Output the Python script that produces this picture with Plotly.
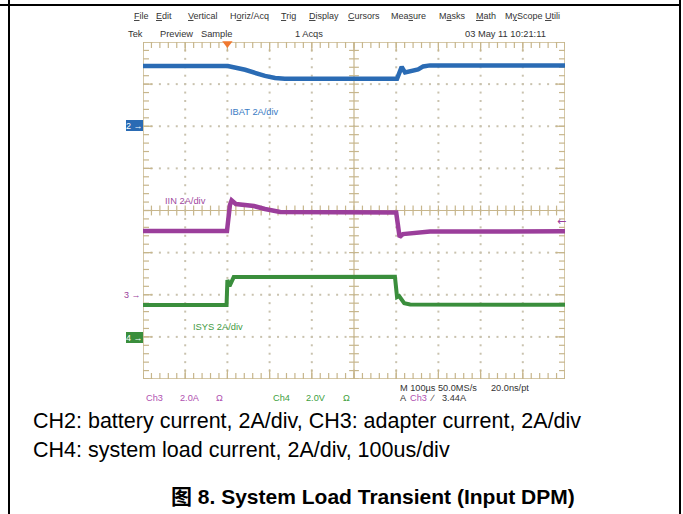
import numpy as np
import plotly.graph_objects as go

W, H = 683, 514

# ---- waveform samples: time in microseconds, current in amps ----
ibat_t = [0, 201, 242, 265, 289, 313, 336, 602, 613, 621, 633, 652, 664, 680, 1000]
ibat_a = [2.86, 2.86, 2.68, 2.53, 2.39, 2.29, 2.25, 2.25, 2.82, 2.55, 2.63, 2.70, 2.84, 2.89, 2.88]

iin_t = [0, 199, 206, 210, 220, 263, 289, 325, 600, 604, 608, 616, 645, 680, 1000]
iin_a = [3.03, 3.03, 4.26, 4.48, 4.31, 4.21, 4.07, 3.93, 3.90, 3.07, 2.74, 2.88, 2.93, 3.00, 3.01]

isys_t = [0, 198, 200, 205, 215, 597, 602, 607, 619, 633, 1000]
isys_a = [1.51, 1.51, 2.70, 2.41, 2.84, 2.86, 1.89, 1.94, 1.60, 1.54, 1.52]

# channel ground positions (divisions from screen centre) and vertical scale
CH2_GND, CH3_GND, CH4_GND = 2, -2, -3
A_PER_DIV = 2.0
TRIG_T = 200        # trigger position, us
TRIG_LEVEL = 3.44   # trigger level on Ch3, A

BLUE = "#2a6bb4"
PURPLE = "#9b3e9b"
GREEN = "#3a8e3c"
GRAT = "#c7b68c"
DOT = "#c9c2ae"
ORANGE = "#f0782e"

# graticule box in pixels
GX0, GX1, GY0, GY1 = 143, 565, 42, 379
PX_PER_US = (GX1 - GX0) / 1000.0
PX_PER_DIV = (GY1 - GY0) / 8.0


def px(x):
    return x / W


def py(y):
    return 1 - y / H


def to_div(amps, gnd):
    return [gnd + a / A_PER_DIV for a in amps]


fig = go.Figure()

# dotted graticule lines at every major division (dots every 0.2 div)
dot_x, dot_y = [], []
for xm in range(100, 1000, 100):
    if xm == 500:
        continue
    for yv in np.arange(-4, 4.001, 0.2):
        dot_x.append(xm)
        dot_y.append(yv)
for ym in range(-3, 4):
    if ym == 0:
        continue
    for xv in np.arange(0, 1000.1, 20):
        dot_x.append(xv)
        dot_y.append(ym)
fig.add_trace(go.Scatter(x=dot_x, y=dot_y, mode="markers",
                         marker=dict(symbol="square", size=2, color=DOT),
                         hoverinfo="skip", showlegend=False))


def tick_trace(xs, ys, symbol, size):
    fig.add_trace(go.Scatter(
        x=xs, y=ys, mode="markers", hoverinfo="skip", showlegend=False,
        marker=dict(symbol=symbol, size=size, color=GRAT,
                    line=dict(color=GRAT, width=1.2))))


xt = list(np.arange(0, 1000.1, 20))
yt = list(np.arange(-4, 4.001, 0.2))
# centre cross ticks
tick_trace(xt, [0] * len(xt), "line-ns", 7)
tick_trace([500] * len(yt), yt, "line-ew", 7)
# border ticks pointing inward
dy = 2.5 / PX_PER_DIV
dx = 2.5 / PX_PER_US
tick_trace(xt, [-4 + dy] * len(xt), "line-ns", 5)
tick_trace(xt, [4 - dy] * len(xt), "line-ns", 5)
tick_trace([dx] * len(yt), yt, "line-ew", 5)
tick_trace([1000 - dx] * len(yt), yt, "line-ew", 5)
xm = list(range(0, 1001, 100))
ym = list(range(-4, 5))
dy2 = 4 / PX_PER_DIV
dx2 = 4 / PX_PER_US
tick_trace(xm, [-4 + dy2] * len(xm), "line-ns", 8)
tick_trace(xm, [4 - dy2] * len(xm), "line-ns", 8)
tick_trace([dx2] * len(ym), ym, "line-ew", 8)
tick_trace([1000 - dx2] * len(ym), ym, "line-ew", 8)

# waveforms
fig.add_trace(go.Scatter(x=ibat_t, y=to_div(ibat_a, CH2_GND), mode="lines",
                         line=dict(color=BLUE, width=4.5), showlegend=False))
fig.add_trace(go.Scatter(x=iin_t, y=to_div(iin_a, CH3_GND), mode="lines",
                         line=dict(color=PURPLE, width=4.5), showlegend=False))
fig.add_trace(go.Scatter(x=isys_t, y=to_div(isys_a, CH4_GND), mode="lines",
                         line=dict(color=GREEN, width=4), showlegend=False))

# trigger position marker
fig.add_trace(go.Scatter(x=[TRIG_T], y=[4 - 1.6 / PX_PER_DIV], mode="markers",
                         marker=dict(symbol="triangle-down", size=9, color=ORANGE),
                         cliponaxis=False, hoverinfo="skip", showlegend=False))
# trigger level indicator on the right edge
fig.add_trace(go.Scatter(x=[1000 - 8 / PX_PER_US], y=[CH3_GND + TRIG_LEVEL / A_PER_DIV],
                         mode="text", text=["←"], textposition="middle right",
                         textfont=dict(color=PURPLE, size=11, family="DejaVu Sans"),
                         cliponaxis=False, hoverinfo="skip", showlegend=False))

shapes = [
    dict(type="rect", xref="x", yref="y", x0=0, x1=1000, y0=-4, y1=4,
         line=dict(color=GRAT, width=1.5), layer="below"),
    dict(type="line", xref="x", yref="y", x0=500, x1=500, y0=-4, y1=4,
         line=dict(color=GRAT, width=1.2), layer="below"),
    dict(type="line", xref="x", yref="y", x0=0, x1=1000, y0=0, y1=0,
         line=dict(color=GRAT, width=1.2), layer="below"),
    # page frame
    dict(type="line", xref="paper", yref="paper", x0=px(9), x1=px(9), y0=0, y1=1,
         line=dict(color="black", width=2)),
    dict(type="line", xref="paper", yref="paper", x0=px(680), x1=px(680), y0=0, y1=1,
         line=dict(color="black", width=2)),
    dict(type="line", xref="paper", yref="paper", x0=0, x1=px(681), y0=py(5), y1=py(5),
         line=dict(color="black", width=2)),
    # channel ground boxes
    dict(type="rect", xref="paper", yref="paper", x0=px(126), x1=px(143),
         y0=py(131), y1=py(120), fillcolor=BLUE, line=dict(width=0)),
    dict(type="rect", xref="paper", yref="paper", x0=px(126), x1=px(143),
         y0=py(343), y1=py(332), fillcolor=GREEN, line=dict(width=0)),
]

SCOPE_FONT = "Liberation Sans Narrow, Liberation Sans, Arial"
annotations = []


def ann(text, x, y, color="#333333", size=9.5, xanchor="left", family=SCOPE_FONT):
    annotations.append(dict(text=text, x=px(x), y=py(y), xref="paper", yref="paper",
                            xanchor=xanchor, yanchor="middle", showarrow=False,
                            font=dict(color=color, size=size, family=family)))


menu = [("<u>F</u>ile", 132), ("<u>E</u>dit", 154), ("<u>V</u>ertical", 186),
        ("H<u>o</u>riz/Acq", 228), ("<u>T</u>rig", 279), ("<u>D</u>isplay", 307),
        ("<u>C</u>ursors", 346), ("Mea<u>s</u>ure", 389), ("M<u>a</u>sks", 437),
        ("<u>M</u>ath", 474), ("M<u>y</u>Scope", 503), ("<u>U</u>tili", 543)]
for txt, x in menu:
    ann(txt, x, 16, size=9)
for txt, x in [("Tek", 126), ("Preview", 158), ("Sample", 199), ("1 Acqs", 293),
               ("03 May 11 10:21:11", 463)]:
    ann(txt, x, 34, size=9.3)

# channel labels
ann("IBAT 2A/div", 228, 112, color="#3a7bc4", size=9.3)
ann("IIN 2A/div", 163, 201, color="#a04aa0", size=9.3)
ann("ISYS 2A/div", 191, 327, color="#3f9a42", size=9.3)

# ground markers
ann("2 →", 134.5, 126, color="white", size=9, xanchor="center")
ann("4 →", 134.5, 338, color="white", size=9, xanchor="center")
ann("3 →", 143, 295, color=PURPLE, size=9, xanchor="right")

# status line
ann("M 100µs 50.0MS/s", 398, 388, size=9.2)
ann("20.0ns/pt", 489, 388, size=9.2)
ann("Ch3", 144, 398, color="#b050b0", size=9.2)
ann("2.0A", 178, 398, color="#b050b0", size=9.2)
ann("Ω", 214, 398, color="#b050b0", size=9.2)
ann("Ch4", 271, 398, color="#40a040", size=9.2)
ann("2.0V", 304, 398, color="#40a040", size=9.2)
ann("Ω", 341, 398, color="#40a040", size=9.2)
ann("A", 398, 398, size=9.2)
ann("Ch3", 408, 398, color="#b050b0", size=9.2)
ann("∕", 428, 398, size=9.2)
ann("3.44A", 440, 398, size=9.2)

# caption
CAP_FONT = "Liberation Sans, Arial"
ann("CH2: battery current, 2A/div, CH3: adapter current, 2A/div", 31, 421,
    color="black", size=21.5, family=CAP_FONT)
ann("CH4: system load current, 2A/div, 100us/div", 31, 450,
    color="black", size=21.5, family=CAP_FONT)
annotations.append(dict(text="<b>图 8. System Load Transient (Input DPM)</b>",
                        x=px(373), y=py(496), xref="paper", yref="paper",
                        xanchor="center", yanchor="middle", showarrow=False,
                        font=dict(color="black", size=21,
                                  family="Liberation Sans, Noto Sans CJK SC")))

fig.update_layout(
    width=W, height=H,
    margin=dict(l=0, r=0, t=0, b=0),
    paper_bgcolor="white", plot_bgcolor="white",
    xaxis=dict(domain=[px(GX0), px(GX1)], range=[0, 1000], visible=False),
    yaxis=dict(domain=[py(GY1), py(GY0)], range=[-4, 4], visible=False),
    shapes=shapes, annotations=annotations,
)

fig.write_html("out.html")
